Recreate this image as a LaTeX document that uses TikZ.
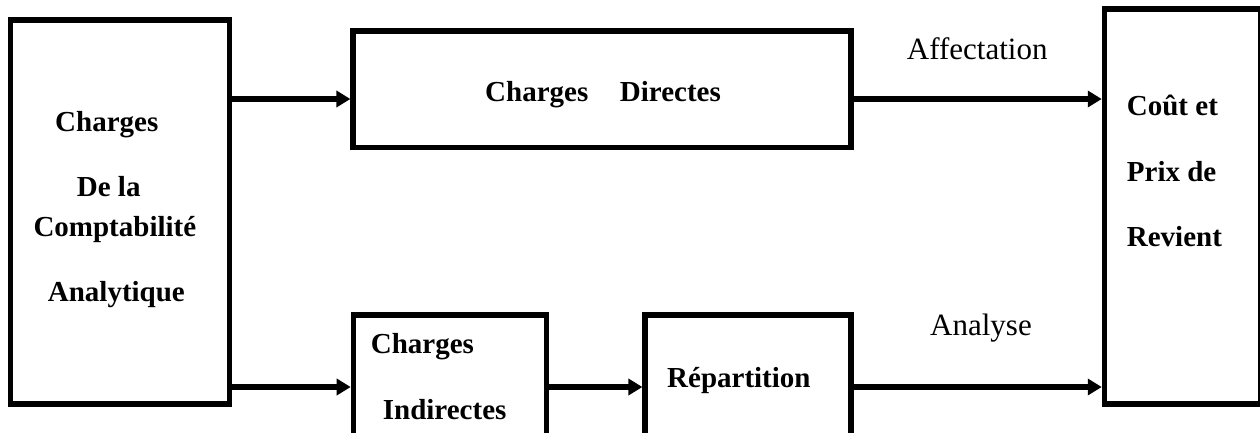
\documentclass[tikz,border=0pt]{standalone}
\usepackage{fontspec}
\setmainfont{Liberation Serif}
\usetikzlibrary{arrows.meta}
\begin{document}
\begin{tikzpicture}[x=1pt,y=-1pt,
  box/.style={draw=black, line width=5.2pt, rectangle, inner sep=0pt},
  lbl/.style={anchor=base west, inner sep=0pt, font=\fontsize{29}{34}\selectfont\bfseries},
  note/.style={anchor=base west, inner sep=0pt, font=\fontsize{31}{36}\selectfont},
  arr/.style={draw=black, line width=5.2pt, -{Triangle[length=14pt,width=16pt]}}
]
\useasboundingbox (0,0) rectangle (1260,432);
\clip (0,0) rectangle (1260,432);
\fill[white] (0,0) rectangle (1260,432);

% boxes
\node[box, minimum width=219pt, minimum height=384pt] (L) at (120.2,212) {};
\node[box, minimum width=498pt, minimum height=116.5pt] (CD) at (602,89.25) {};
\node[box, minimum width=193pt, minimum height=135pt] (CI) at (449.8,382.5) {};
\node[box, minimum width=206pt, minimum height=135pt] (RP) at (748,382.5) {};
\node[box, minimum width=156.7pt, minimum height=395pt] (R) at (1182.7,206.5) {};

% box texts
\node[lbl] (l1) at (55,131) {Charges};
\node[lbl] (l2) at (76.7,196.7) {De la};
\node[lbl] (l3) at (33.3,236) {Comptabilité};
\node[lbl] (l4) at (47.7,301.7) {Analytique};

\node[lbl] (cd) at (485,101.7) {Charges\hspace{31.6pt}Directes};

\node[lbl] (ci1) at (370.7,353) {Charges};
\node[lbl] (ci2) at (382.7,419) {Indirectes};

\node[lbl] (rp) at (667,387) {Répartition};

\node[lbl] (r1) at (1126.7,115) {Coût et};
\node[lbl] (r2) at (1126.7,181.7) {Prix de};
\node[lbl] (r3) at (1126.7,246.7) {Revient};

% arrow labels
\node[note] (aff) at (906.7,59) {Affectation};
\node[note] (ana) at (930,335) {Analyse};

% arrow levels
\coordinate (yt) at (0,99);
\coordinate (yb) at (0,387);

% connectors
\draw[arr] (L.east |- yt) -- (CD.west |- yt);
\draw[arr] (CD.east |- yt) -- (R.west |- yt);
\draw[arr] (L.east |- yb) -- (CI.west |- yb);
\draw[arr] (CI.east |- yb) -- (RP.west |- yb);
\draw[arr] (RP.east |- yb) -- (R.west |- yb);
\end{tikzpicture}
\end{document}
